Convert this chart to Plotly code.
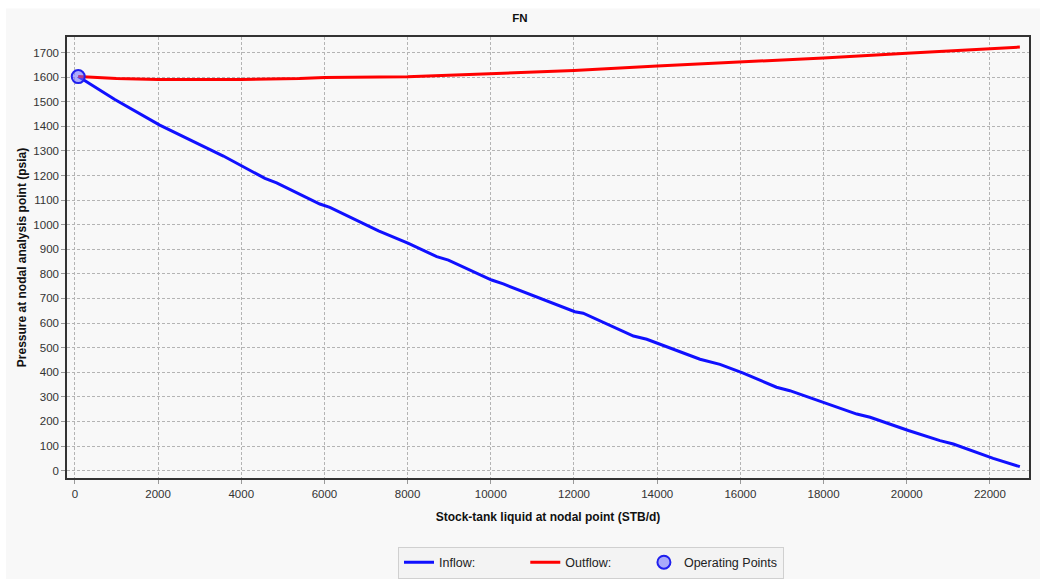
import plotly.graph_objects as go

# ---- data ----
inflow_x = [80, 960, 2040, 3330, 3570, 4570, 4850, 5890, 6130, 7300, 8020, 8700, 8980,
            10020, 10300, 12020, 12220, 13430, 13750, 15030, 15510, 16070, 16870, 17190,
            18070, 18800, 19120, 20040, 20800, 21120, 22080, 22720]
inflow_y = [1602, 1509, 1405, 1296, 1279, 1188, 1170, 1084, 1070, 975, 924, 870, 856,
            775, 759, 646, 640, 547, 534, 453, 432, 396, 339, 325,
            274, 230, 217, 163, 122, 108, 50, 16]

outflow_x = [80, 1000, 2000, 4000, 5400, 6000, 8000, 10000, 12000, 14000, 16000, 18000,
             20000, 22000, 22720]
outflow_y = [1602, 1594, 1590, 1590, 1594, 1598, 1601, 1613, 1627, 1645, 1661, 1678,
             1697, 1716, 1722]

op_x = [80]
op_y = [1602]

x_ticks = list(range(0, 22001, 2000))
x_ticktext = [str(v) for v in x_ticks]
y_ticks = list(range(0, 1701, 100))
y_ticktext = [str(v) for v in y_ticks]

FONT = "Liberation Sans, Arial, sans-serif"
BG = "#f8f8f8"
NB = "\u00a0"

W, H = 1040, 590
ML, MR, MT, MB = 67, 11, 37, 103
PW = W - ML - MR
PH = H - MT - MB
BOTTOM = H - MB

fig = go.Figure()
fig.add_trace(go.Scatter(x=inflow_x, y=inflow_y, mode="lines", name="Inflow:" + NB * 13,
                         line=dict(color="#1010ff", width=3)))
fig.add_trace(go.Scatter(x=outflow_x, y=outflow_y, mode="lines", name="Outflow:" + NB * 8,
                         line=dict(color="#ff0000", width=3)))
fig.add_trace(go.Scatter(x=op_x, y=op_y, mode="markers", name="Operating Points",
                         marker=dict(size=13, color="rgba(110,110,255,0.55)",
                                     line=dict(color="#2020ee", width=2))))

axis_common = dict(
    showline=True, linecolor="#333333", linewidth=1.5, mirror=True,
    showgrid=True, gridcolor="#b4b4b4", griddash="3px,2px", gridwidth=1,
    ticks="outside", ticklen=4, tickcolor="#999999",
    tickfont=dict(family=FONT, size=11.5, color="#333333"),
    zeroline=False, automargin=False,
)

fig.update_layout(
    width=W, height=H,
    paper_bgcolor="white", plot_bgcolor=BG,
    margin=dict(l=ML, r=MR, t=MT, b=MB),
    title=dict(text="<b>FN</b>", x=0.5, xref="container", y=0.969, yref="container",
               yanchor="middle", font=dict(family=FONT, size=11.5, color="#111111"),
               automargin=False),
    xaxis=dict(range=[-190, 22940], tickvals=x_ticks, ticktext=x_ticktext,
               title=dict(text="<b>Stock-tank liquid at nodal point (STB/d)</b>",
                          font=dict(family=FONT, size=12, color="#111111"), standoff=14),
               **axis_common),
    yaxis=dict(range=[-30, 1763], tickvals=y_ticks, ticktext=y_ticktext,
               title=dict(text="<b>Pressure at nodal analysis point (psia)</b>",
                          font=dict(family=FONT, size=12, color="#111111"), standoff=4),
               **axis_common),
    showlegend=True,
    legend=dict(orientation="h", x=(398 - ML) / PW, xanchor="left",
                y=(BOTTOM - 557) / PH, yanchor="top",
                bgcolor="#f3f3f3", bordercolor="#d0d0d0", borderwidth=1,
                font=dict(family=FONT, size=12.5, color="#222222"),
                itemwidth=30),
    shapes=[dict(type="rect", xref="paper", yref="paper",
                 x0=(6 - ML) / PW, x1=(W - ML) / PW,
                 y0=(BOTTOM - H) / PH, y1=(BOTTOM - 8) / PH,
                 fillcolor=BG, line=dict(width=0), layer="below")],
)

fig.write_html(
    "out.html",
    config={"displayModeBar": False},
    post_script=(
        "document.documentElement.style.margin='0';"
        "document.documentElement.style.padding='0';"
        "document.documentElement.style.overflow='hidden';"
        "document.body.style.margin='0';"
        "document.body.style.padding='0';"
        "document.body.style.overflow='hidden';"
    ),
)
